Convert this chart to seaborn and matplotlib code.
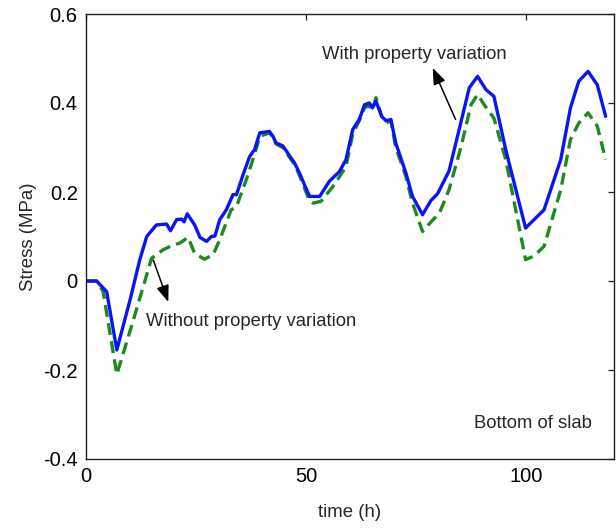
import numpy as np
import pandas as pd
import matplotlib
matplotlib.use("Agg")
import matplotlib.pyplot as plt
import seaborn as sns

# ---- data ----
t_with = [0, 2.4, 4.7, 7.0, 10.0, 12.2, 13.8, 16.0, 18.3, 19.2, 20.6, 21.7, 22.3, 23.0,
          24.7, 25.9, 27.4, 28.5, 29.3, 30.4, 31.9, 33.4, 34.2, 35.7, 37.2, 38.3, 39.5,
          41.7, 42.5, 43.2, 44.7, 47.4, 48.5, 50.8, 53.1, 55.3, 57.6, 59.1, 60.6, 62.1,
          63.3, 64.4, 65.1, 65.9, 67.2, 68.2, 69.3, 70.4, 72.7, 74.2, 76.5, 78.4, 79.9,
          82.5, 84.8, 87.1, 89.0, 90.9, 92.7, 95.4, 99.9, 104.1, 107.9, 110.1, 112.0,
          114.1, 116.2, 118.1]
s_with = [0, 0, -0.024, -0.155, -0.043, 0.047, 0.100, 0.126, 0.128, 0.113, 0.138, 0.139,
          0.133, 0.151, 0.126, 0.098, 0.089, 0.100, 0.101, 0.138, 0.160, 0.194, 0.194,
          0.239, 0.280, 0.295, 0.333, 0.336, 0.325, 0.310, 0.304, 0.265, 0.243, 0.190,
          0.190, 0.224, 0.246, 0.273, 0.340, 0.363, 0.396, 0.400, 0.389, 0.404, 0.370,
          0.360, 0.363, 0.310, 0.243, 0.190, 0.149, 0.181, 0.196, 0.247, 0.340, 0.434,
          0.460, 0.430, 0.415, 0.295, 0.119, 0.160, 0.273, 0.389, 0.449, 0.471, 0.441,
          0.370]

t_without = [0, 2.4, 3.9, 7.0, 11.0, 14.9, 17.5, 19.8, 21.3, 23.2, 24.7, 26.9, 28.9, 30.4,
             33.0, 34.2, 36.4, 38.3, 39.5, 41.7, 42.5, 43.2, 44.7, 47.4, 48.5, 50.8, 51.6,
             53.4, 56.1, 59.1, 60.6, 62.1, 63.3, 64.4, 65.1, 65.9, 67.2, 68.2, 69.3, 70.4,
             72.7, 74.2, 76.5, 78.8, 80.3, 82.5, 85.2, 87.5, 89.0, 90.5, 92.7, 95.4, 99.9,
             101.8, 104.1, 107.9, 110.1, 112.0, 114.1, 116.2, 118.1]
s_without = [0, 0, -0.024, -0.210, -0.080, 0.051, 0.070, 0.081, 0.085, 0.098, 0.062, 0.049,
             0.059, 0.093, 0.160, 0.167, 0.227, 0.284, 0.325, 0.333, 0.322, 0.308, 0.300,
             0.262, 0.238, 0.180, 0.175, 0.179, 0.212, 0.257, 0.330, 0.360, 0.390, 0.393,
             0.385, 0.412, 0.370, 0.355, 0.360, 0.300, 0.235, 0.175, 0.111, 0.137, 0.152,
             0.205, 0.300, 0.396, 0.419, 0.396, 0.366, 0.273, 0.048, 0.056, 0.078, 0.205,
             0.318, 0.355, 0.378, 0.348, 0.273]

x_ticks = [0, 50, 100]
y_ticks = [-0.4, -0.2, 0, 0.2, 0.4, 0.6]
y_tick_labels = ["-0.4", "-0.2", "0", "0.2", "0.4", "0.6"]

# ---- style ----
sns.set_style("white")
plt.rcParams["font.family"] = ["Liberation Sans", "DejaVu Sans"]
plt.rcParams["xtick.direction"] = "in"
plt.rcParams["ytick.direction"] = "in"

fig = plt.figure(figsize=(6.16, 5.30), dpi=100)
ax = fig.add_axes([86 / 616, 1 - 459 / 530, (614 - 86) / 616, (459 - 14) / 530])

df_with = pd.DataFrame({"t": t_with, "s": s_with})
df_without = pd.DataFrame({"t": t_without, "s": s_without})

sns.lineplot(data=df_without, x="t", y="s", ax=ax, color="#1f881f", lw=2.4,
             linestyle=(0, (3.6, 1.9)), estimator=None, sort=False)
sns.lineplot(data=df_with, x="t", y="s", ax=ax, color="#0a14f5", lw=2.4,
             estimator=None, sort=False)

ax.set_xlim(0, 120)
ax.set_ylim(-0.4, 0.6)
ax.set_xticks(x_ticks)
ax.set_xticklabels([str(v) for v in x_ticks])
ax.set_yticks(y_ticks)
ax.set_yticklabels(y_tick_labels)
ax.tick_params(axis="both", which="both", direction="in", length=4, width=0.9,
               top=True, right=True, labelsize=14.5, colors="#222222", pad=6)
ax.tick_params(axis="both", labelcolor="black")
for sp in ax.spines.values():
    sp.set_visible(True)
    sp.set_color("#222222")
    sp.set_linewidth(1.0)

ax.set_xlabel("time (h)", fontsize=13.4, labelpad=13)
ax.set_ylabel("Stress (MPa)", fontsize=13.4, labelpad=4)

arrow_style = dict(arrowstyle="-|>,head_length=1.0,head_width=0.38",
                   color="black", lw=1.1, shrinkA=0, shrinkB=0)

# annotations
ax.text(74.6, 0.508, "With property variation", ha="center", va="center",
        fontsize=13.3)
ax.annotate("", xy=(78.8, 0.479), xytext=(84.0, 0.363), arrowprops=arrow_style)
ax.text(37.6, -0.09, "Without property variation", ha="center", va="center",
        fontsize=13.3)
ax.annotate("", xy=(18.7, -0.047), xytext=(15.3, 0.047), arrowprops=arrow_style)
ax.text(101.5, -0.32, "Bottom of slab", ha="center", va="center", fontsize=13.3)

fig.savefig("out.png", dpi=100)
